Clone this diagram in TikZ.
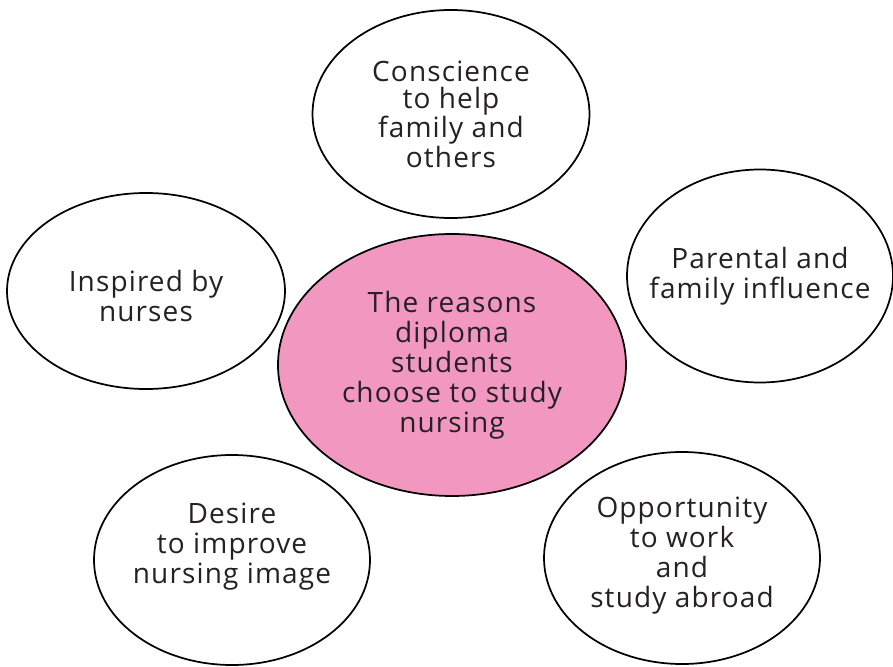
\documentclass[tikz,border=0pt]{standalone}
\usepackage{fontspec}
\setmainfont[LetterSpace=4]{Open Sans}
\usepackage{tikz}
\usetikzlibrary{shapes}
\definecolor{reasonpink}{RGB}{242,152,192}
\definecolor{inktext}{RGB}{38,32,36}

\begin{document}
\begin{tikzpicture}[x=0.75pt, y=-0.75pt, line width=1.3pt, reason node/.style={ellipse,draw,inner sep=0pt}, reason text/.style={align=center,text=inktext,font=\fontsize{21}{22.5}\selectfont}]%fill=white,
\useasboundingbox (0,0) rectangle (893,667);
\begin{scope}
\node[reason node,fill=reasonpink,minimum width=348pt*0.75,minimum height=262pt*0.75] (mid) at (452,365) {};
\node[reason node,minimum width=277pt*0.75,minimum height=208pt*0.75] (top) at (451,114) {};
\node[reason node,minimum width=278pt*0.75,minimum height=196pt*0.75] (left) at (146,291) {};
\node[reason node,minimum width=266pt*0.75,minimum height=213pt*0.75] (right) at (760,276) {};
\node[reason node,minimum width=276pt*0.75,minimum height=210pt*0.75] (botleft) at (232,560) {};
\node[reason node,minimum width=276pt*0.75,minimum height=212pt*0.75] (botright) at (682,558) {};
\end{scope}
\begin{scope}[every node/.style={reason text}]
\node (mid text) at (mid) {The reasons\\diploma\\students\\choose to study\\nursing};
\node[font=\fontsize{21}{20.5}\selectfont] (top text) at (top) {Conscience\\to help\\family and\\others};
\node[yshift=-4pt] (left text) at (left) {Inspired by\\nurses};
\node (right text) at (right) {Parental and\\family influence};
\node[yshift=10pt] (botleft text) at (botleft) {Desire\\to improve\\nursing image};
\node[yshift=2pt] (botright text) at (botright) {Opportunity\\to work\\and\\study abroad};
\end{scope}
\end{tikzpicture}
\end{document}
